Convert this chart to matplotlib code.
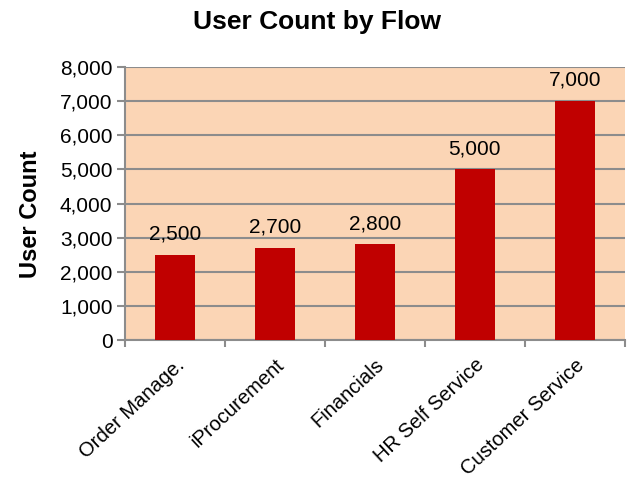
import matplotlib.pyplot as plt
import numpy as np

flows = ['Order Manage.', 'iProcurement', 'Financials', 'HR Self Service', 'Customer Service']
user_counts = [2500, 2700, 2800, 5000, 7000]
y_ticks = [0, 1000, 2000, 3000, 4000, 5000, 6000, 7000, 8000]

plt.rcParams['font.family'] = ['Liberation Sans', 'DejaVu Sans']

fig = plt.figure(figsize=(6.28, 4.84), dpi=100)
ax = fig.add_axes([0.199, 0.2975, 0.796, 0.564])
ax.set_facecolor('#FBD5B5')

x = np.arange(len(flows))
ax.bar(x, user_counts, width=0.4, color='#C00000', zorder=3)
for xi, v in zip(x, user_counts):
    ax.text(xi, v + 330, f'{v:,}', ha='center', va='bottom', fontsize=15)

ax.set_xlim(-0.5, len(flows) - 0.5)
ax.set_ylim(0, 8000)
ax.set_yticks(y_ticks)
ax.set_yticklabels([f'{t:,}' for t in y_ticks], fontsize=15)
ax.yaxis.grid(True, color='#8C8C8C', linewidth=1.5, zorder=0)
ax.tick_params(axis='y', length=6, width=1.5, color='#8C8C8C', pad=3)

ax.set_xticks(x)
ax.set_xticklabels(flows, rotation=43, ha='right', rotation_mode='anchor', fontsize=14.5)
ax.tick_params(axis='x', length=0, pad=11)
ax.set_xticks(np.arange(len(flows) + 1) - 0.5, minor=True)
ax.tick_params(axis='x', which='minor', length=5, width=1.5, color='#8C8C8C')

for s in ['top', 'right']:
    ax.spines[s].set_visible(False)
for s in ['left', 'bottom']:
    ax.spines[s].set_color('#8C8C8C')
    ax.spines[s].set_linewidth(1.5)

ax.set_ylabel('User Count', fontsize=17, fontweight='bold', labelpad=16)
ax.yaxis.set_label_coords(-0.165, 0.46)
fig.suptitle('User Count by Flow', fontsize=19, fontweight='bold', x=0.505, y=0.98)

fig.savefig('out.png', dpi=100)
